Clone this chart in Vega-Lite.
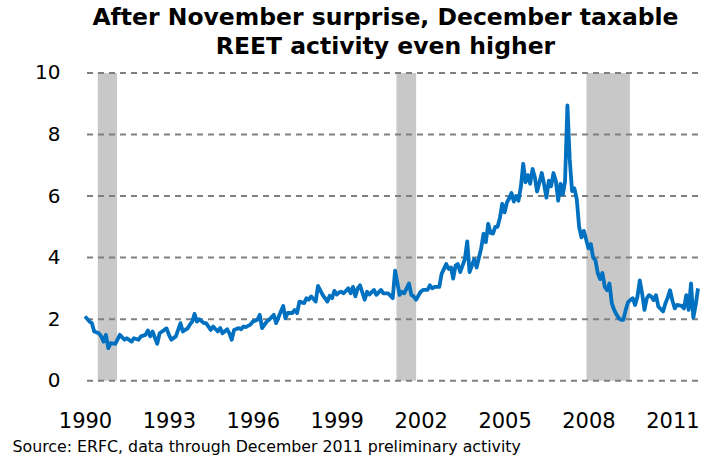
{
  "$schema": "https://vega.github.io/schema/vega-lite/v6.json",
  "width": 613,
  "height": 307.7,
  "autosize": {"type": "none"},
  "padding": {"left": 85, "top": 73, "right": 14, "bottom": 78},
  "background": "white",
  "config": {"view": {"stroke": null}, "font": "DejaVu Sans"},
  "title": {
    "text": ["After November surprise, December taxable", "REET activity even higher"],
    "font": "DejaVu Sans",
    "fontSize": 23.5,
    "fontWeight": "bold",
    "color": "black",
    "anchor": "middle",
    "lineHeight": 29,
    "baseline": "alphabetic",
    "offset": 15,
    "dy": 30,
    "dx": -6
  },
  "datasets": {
    "rec": [
      {"start": "1990-06-16", "end": "1991-02-23"},
      {"start": "2001-02-19", "end": "2001-11-03"},
      {"start": "2007-12-06", "end": "2009-06-25"}
    ],
    "grid": [{"g": 0}, {"g": 2}, {"g": 4}, {"g": 6}, {"g": 8}, {"g": 10}],
    "series": [
      {"d": "1990-01", "v": 2.09}, {"d": "1990-03", "v": 1.92}, {"d": "1990-04", "v": 1.87}, {"d": "1990-05", "v": 1.6},
      {"d": "1990-07", "v": 1.54}, {"d": "1990-08", "v": 1.44}, {"d": "1990-09", "v": 1.27}, {"d": "1990-10", "v": 1.49},
      {"d": "1990-11", "v": 1.06}, {"d": "1990-12", "v": 1.22}, {"d": "1991-02", "v": 1.2}, {"d": "1991-04", "v": 1.49},
      {"d": "1991-06", "v": 1.33}, {"d": "1991-07", "v": 1.38}, {"d": "1991-09", "v": 1.27}, {"d": "1991-10", "v": 1.38},
      {"d": "1991-12", "v": 1.33}, {"d": "1992-01", "v": 1.44}, {"d": "1992-03", "v": 1.49}, {"d": "1992-04", "v": 1.63},
      {"d": "1992-05", "v": 1.44}, {"d": "1992-06", "v": 1.6}, {"d": "1992-08", "v": 1.2}, {"d": "1992-09", "v": 1.54},
      {"d": "1992-11", "v": 1.65}, {"d": "1992-12", "v": 1.7}, {"d": "1993-01", "v": 1.49}, {"d": "1993-02", "v": 1.33},
      {"d": "1993-04", "v": 1.44}, {"d": "1993-06", "v": 1.87}, {"d": "1993-07", "v": 1.6}, {"d": "1993-09", "v": 1.7},
      {"d": "1993-10", "v": 1.82}, {"d": "1993-11", "v": 1.92}, {"d": "1993-12", "v": 2.17}, {"d": "1994-01", "v": 1.92},
      {"d": "1994-02", "v": 2.0}, {"d": "1994-04", "v": 1.87}, {"d": "1994-05", "v": 1.87}, {"d": "1994-07", "v": 1.65},
      {"d": "1994-08", "v": 1.76}, {"d": "1994-10", "v": 1.6}, {"d": "1994-11", "v": 1.71}, {"d": "1994-12", "v": 1.54},
      {"d": "1995-02", "v": 1.67}, {"d": "1995-03", "v": 1.54}, {"d": "1995-04", "v": 1.33}, {"d": "1995-05", "v": 1.65},
      {"d": "1995-07", "v": 1.71}, {"d": "1995-08", "v": 1.67}, {"d": "1995-09", "v": 1.76}, {"d": "1995-10", "v": 1.74},
      {"d": "1995-12", "v": 1.82}, {"d": "1996-01", "v": 1.92}, {"d": "1996-03", "v": 1.98}, {"d": "1996-04", "v": 2.14},
      {"d": "1996-05", "v": 1.71}, {"d": "1996-07", "v": 1.92}, {"d": "1996-08", "v": 1.98}, {"d": "1996-10", "v": 2.14},
      {"d": "1996-11", "v": 1.87}, {"d": "1997-01", "v": 2.25}, {"d": "1997-02", "v": 2.43}, {"d": "1997-03", "v": 2.03},
      {"d": "1997-04", "v": 2.2}, {"d": "1997-06", "v": 2.2}, {"d": "1997-07", "v": 2.3}, {"d": "1997-08", "v": 2.2},
      {"d": "1997-09", "v": 2.57}, {"d": "1997-11", "v": 2.52}, {"d": "1997-12", "v": 2.68}, {"d": "1998-01", "v": 2.63},
      {"d": "1998-02", "v": 2.74}, {"d": "1998-04", "v": 2.57}, {"d": "1998-05", "v": 3.08}, {"d": "1998-07", "v": 2.79},
      {"d": "1998-09", "v": 2.57}, {"d": "1998-10", "v": 2.76}, {"d": "1998-11", "v": 2.68}, {"d": "1998-12", "v": 2.92},
      {"d": "1999-01", "v": 2.8}, {"d": "1999-02", "v": 2.87}, {"d": "1999-03", "v": 2.89}, {"d": "1999-04", "v": 2.84},
      {"d": "1999-06", "v": 3.0}, {"d": "1999-07", "v": 2.84}, {"d": "1999-08", "v": 3.05}, {"d": "1999-09", "v": 2.74},
      {"d": "1999-10", "v": 3.0}, {"d": "1999-11", "v": 3.1}, {"d": "2000-01", "v": 2.63}, {"d": "2000-02", "v": 2.89},
      {"d": "2000-03", "v": 2.8}, {"d": "2000-05", "v": 2.95}, {"d": "2000-06", "v": 2.79}, {"d": "2000-08", "v": 2.95},
      {"d": "2000-09", "v": 2.84}, {"d": "2000-11", "v": 2.84}, {"d": "2001-01", "v": 2.68}, {"d": "2001-02", "v": 3.58},
      {"d": "2001-04", "v": 2.79}, {"d": "2001-05", "v": 2.89}, {"d": "2001-06", "v": 2.84}, {"d": "2001-08", "v": 3.16},
      {"d": "2001-09", "v": 2.79}, {"d": "2001-10", "v": 2.74}, {"d": "2001-11", "v": 2.63}, {"d": "2002-01", "v": 2.89},
      {"d": "2002-02", "v": 2.95}, {"d": "2002-04", "v": 2.95}, {"d": "2002-05", "v": 3.1}, {"d": "2002-06", "v": 3.0},
      {"d": "2002-07", "v": 3.05}, {"d": "2002-09", "v": 3.05}, {"d": "2002-10", "v": 3.47}, {"d": "2002-12", "v": 3.79},
      {"d": "2003-01", "v": 3.63}, {"d": "2003-02", "v": 3.68}, {"d": "2003-03", "v": 3.32}, {"d": "2003-04", "v": 3.74},
      {"d": "2003-05", "v": 3.79}, {"d": "2003-06", "v": 3.53}, {"d": "2003-08", "v": 3.95}, {"d": "2003-09", "v": 4.53},
      {"d": "2003-10", "v": 3.53}, {"d": "2003-12", "v": 3.95}, {"d": "2004-01", "v": 3.68}, {"d": "2004-02", "v": 4.0},
      {"d": "2004-03", "v": 4.3}, {"d": "2004-04", "v": 4.78}, {"d": "2004-05", "v": 4.5}, {"d": "2004-06", "v": 5.1},
      {"d": "2004-07", "v": 4.8}, {"d": "2004-08", "v": 4.78}, {"d": "2004-09", "v": 5.0}, {"d": "2004-10", "v": 5.0},
      {"d": "2004-11", "v": 5.3}, {"d": "2004-12", "v": 5.75}, {"d": "2005-01", "v": 5.47}, {"d": "2005-02", "v": 5.8},
      {"d": "2005-03", "v": 5.92}, {"d": "2005-04", "v": 6.1}, {"d": "2005-05", "v": 5.82}, {"d": "2005-06", "v": 6.0},
      {"d": "2005-07", "v": 5.85}, {"d": "2005-08", "v": 6.3}, {"d": "2005-09", "v": 7.05}, {"d": "2005-10", "v": 6.45},
      {"d": "2005-11", "v": 6.68}, {"d": "2005-12", "v": 6.4}, {"d": "2006-01", "v": 6.88}, {"d": "2006-02", "v": 6.6},
      {"d": "2006-03", "v": 6.15}, {"d": "2006-04", "v": 6.45}, {"d": "2006-05", "v": 6.75}, {"d": "2006-06", "v": 6.37},
      {"d": "2006-07", "v": 5.95}, {"d": "2006-08", "v": 6.5}, {"d": "2006-09", "v": 6.32}, {"d": "2006-10", "v": 6.75},
      {"d": "2006-11", "v": 6.5}, {"d": "2006-12", "v": 5.85}, {"d": "2007-01", "v": 6.4}, {"d": "2007-02", "v": 6.05},
      {"d": "2007-03", "v": 6.48}, {"d": "2007-04", "v": 8.95}, {"d": "2007-05", "v": 7.2}, {"d": "2007-06", "v": 6.16},
      {"d": "2007-07", "v": 6.25}, {"d": "2007-08", "v": 5.9}, {"d": "2007-09", "v": 5.0}, {"d": "2007-10", "v": 4.66},
      {"d": "2007-11", "v": 4.87}, {"d": "2007-12", "v": 4.6}, {"d": "2008-01", "v": 4.3}, {"d": "2008-02", "v": 4.44},
      {"d": "2008-03", "v": 4.01}, {"d": "2008-04", "v": 3.91}, {"d": "2008-05", "v": 3.5}, {"d": "2008-06", "v": 3.3},
      {"d": "2008-07", "v": 3.5}, {"d": "2008-08", "v": 3.05}, {"d": "2008-09", "v": 2.94}, {"d": "2008-10", "v": 3.16},
      {"d": "2008-11", "v": 2.51}, {"d": "2008-12", "v": 2.3}, {"d": "2009-01", "v": 2.15}, {"d": "2009-02", "v": 2.03},
      {"d": "2009-03", "v": 1.98}, {"d": "2009-04", "v": 1.98}, {"d": "2009-05", "v": 2.3}, {"d": "2009-06", "v": 2.55},
      {"d": "2009-07", "v": 2.62}, {"d": "2009-08", "v": 2.68}, {"d": "2009-09", "v": 2.46}, {"d": "2009-10", "v": 2.73},
      {"d": "2009-11", "v": 3.26}, {"d": "2009-12", "v": 2.84}, {"d": "2010-01", "v": 2.3}, {"d": "2010-02", "v": 2.68},
      {"d": "2010-03", "v": 2.78}, {"d": "2010-04", "v": 2.73}, {"d": "2010-05", "v": 2.62}, {"d": "2010-06", "v": 2.78},
      {"d": "2010-07", "v": 2.41}, {"d": "2010-09", "v": 2.25}, {"d": "2010-10", "v": 2.51}, {"d": "2010-11", "v": 2.7},
      {"d": "2010-12", "v": 2.94}, {"d": "2011-01", "v": 2.6}, {"d": "2011-02", "v": 2.35}, {"d": "2011-03", "v": 2.46},
      {"d": "2011-04", "v": 2.45}, {"d": "2011-05", "v": 2.43}, {"d": "2011-06", "v": 2.35}, {"d": "2011-07", "v": 2.78},
      {"d": "2011-08", "v": 2.3}, {"d": "2011-09", "v": 3.16}, {"d": "2011-10", "v": 2.05}, {"d": "2011-11", "v": 2.46},
      {"d": "2011-12", "v": 3.0}
    ]
  },
  "layer": [
    {
      "data": {"name": "rec"},
      "mark": {"type": "rect", "color": "#c8c8c8"},
      "encoding": {
        "x": {"field": "start", "type": "temporal"},
        "x2": {"field": "end"},
        "y": {"datum": 0, "type": "quantitative"},
        "y2": {"datum": 10}
      }
    },
    {
      "data": {"name": "grid"},
      "mark": {"type": "rule", "color": "#808080", "strokeWidth": 2, "strokeDash": [6, 5]},
      "encoding": {"y": {"field": "g", "type": "quantitative"}}
    },
    {
      "data": {"name": "series"},
      "mark": {"type": "line", "color": "#0070c0", "strokeWidth": 3.8, "strokeJoin": "round"},
      "encoding": {
        "x": {
          "field": "d",
          "type": "temporal",
          "scale": {
            "type": "utc",
            "domain": [
              {"year": 1990, "month": 1, "date": 1, "utc": true},
              {"year": 2011, "month": 12, "date": 1, "utc": true}
            ]
          },
          "axis": {
            "values": [
              {"year": 1990, "month": 1, "date": 1, "utc": true},
              {"year": 1993, "month": 1, "date": 1, "utc": true},
              {"year": 1996, "month": 1, "date": 1, "utc": true},
              {"year": 1999, "month": 1, "date": 1, "utc": true},
              {"year": 2002, "month": 1, "date": 1, "utc": true},
              {"year": 2005, "month": 1, "date": 1, "utc": true},
              {"year": 2008, "month": 1, "date": 1, "utc": true},
              {"year": 2011, "month": 1, "date": 1, "utc": true}
            ],
            "format": "%Y",
            "labelFont": "DejaVu Sans",
            "labelFontSize": 21,
            "labelColor": "black",
            "labelBaseline": "alphabetic",
            "labelPadding": 47,
            "labelFlush": false,
            "labelOverlap": false,
            "ticks": false,
            "domain": false,
            "grid": false,
            "title": "Source: ERFC, data through December 2011 preliminary activity",
            "titleFont": "DejaVu Sans",
            "titleFontSize": 15.8,
            "titleFontWeight": "normal",
            "titleColor": "black",
            "titleAnchor": "start",
            "titleAlign": "left",
            "titleBaseline": "alphabetic",
            "titleX": -73,
            "titleY": 71
          }
        },
        "y": {
          "field": "v",
          "type": "quantitative",
          "scale": {"domain": [0, 10], "nice": false, "zero": true},
          "axis": {
            "values": [0, 2, 4, 6, 8, 10],
            "labelFont": "DejaVu Sans",
            "labelFontSize": 20,
            "labelColor": "black",
            "labelPadding": 25,
            "ticks": false,
            "domain": false,
            "grid": false,
            "title": null
          }
        }
      }
    }
  ]
}
